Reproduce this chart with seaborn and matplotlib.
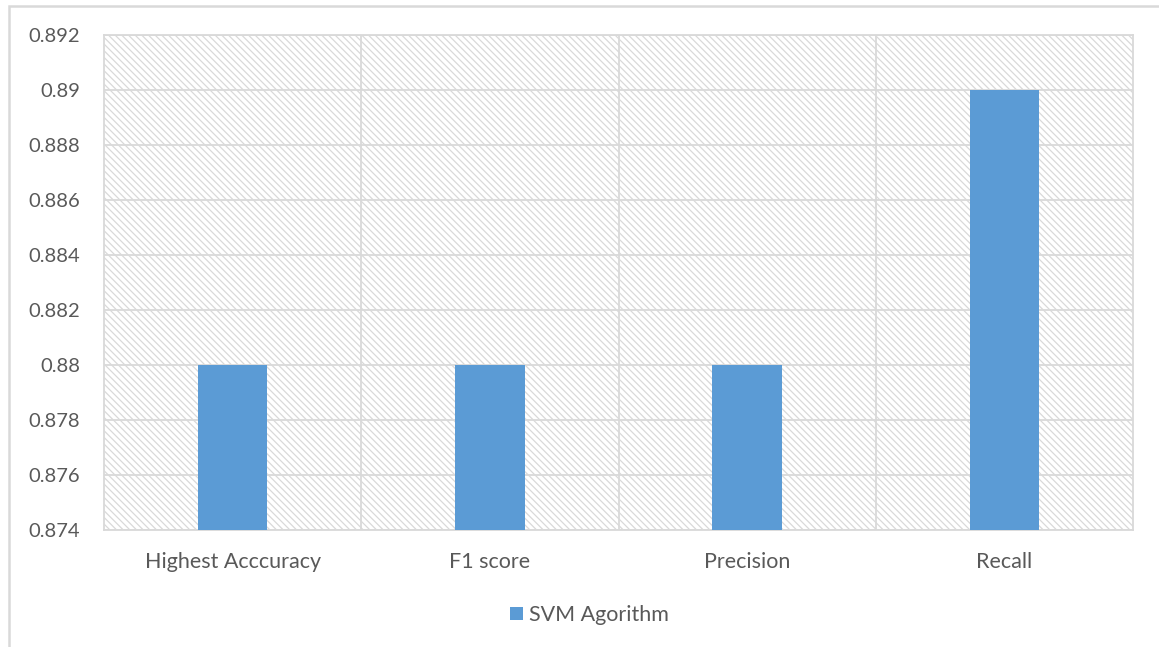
import matplotlib
matplotlib.use("Agg")
import matplotlib.pyplot as plt
from matplotlib.patches import Rectangle
import seaborn as sns
import pandas as pd

# Metrics for the SVM classifier
categories = ["Highest Acccuracy", "F1 score", "Precision", "Recall"]
scores = [0.88, 0.88, 0.88, 0.89]
series_name = "SVM Agorithm"
y_ticks = [0.874, 0.876, 0.878, 0.88, 0.882, 0.884, 0.886, 0.888, 0.89, 0.892]
y_tick_labels = ["0.874", "0.876", "0.878", "0.88", "0.882", "0.884",
                 "0.886", "0.888", "0.89", "0.892"]

BAR = "#5B9BD5"
GRID = "#D9D9D9"
TEXT = "#595959"

sns.set_theme(style="white")
plt.rcParams["font.family"] = ["Lato", "DejaVu Sans"]
plt.rcParams["hatch.color"] = GRID
plt.rcParams["hatch.linewidth"] = 0.9

df = pd.DataFrame({"metric": categories, "score": scores, "series": series_name})

fig = plt.figure(figsize=(11.59, 6.47), dpi=100)
ax = fig.add_axes([104 / 1159, 1 - 530 / 647, (1133 - 104) / 1159, (530 - 35) / 647])

# hatched plot-area background
ax.patch.set_facecolor("white")
ax.patch.set_hatch("\\\\\\\\\\")
ax.patch.set_edgecolor(GRID)
ax.patch.set_linewidth(0)

sns.barplot(data=df, x="metric", y="score", hue="series", palette=[BAR],
            width=0.27, ax=ax, zorder=3, linewidth=0, saturation=1)

ax.set_ylim(0.874, 0.892)
ax.set_xlim(-0.5, len(categories) - 0.5)
ax.set_yticks(y_ticks)
ax.set_yticklabels(y_tick_labels)
ax.set_xlabel("")
ax.set_ylabel("")

# horizontal and category-separator gridlines
ax.grid(axis="y", color=GRID, linewidth=1.3, zorder=1)
for xs in [0.5, 1.5, 2.5]:
    ax.axvline(xs, color=GRID, linewidth=1.3, zorder=1)
ax.set_axisbelow(True)

for sp in ax.spines.values():
    sp.set_visible(True)
    sp.set_color(GRID)
    sp.set_linewidth(1.3)

ax.tick_params(axis="y", length=0, pad=17, labelsize=14.5, labelcolor=TEXT)
ax.tick_params(axis="x", length=0, pad=16, labelsize=15.5, labelcolor=TEXT)

leg = ax.legend(loc="center", bbox_to_anchor=(0.472, -0.172), frameon=False,
                fontsize=15.5, handlelength=0.6, handleheight=0.6,
                handletextpad=0.3)
for t in leg.get_texts():
    t.set_color(TEXT)

# outer chart frame
fig.add_artist(Rectangle((9 / 1159, -0.05), 1.1, 1.05 - 6 / 647,
                         transform=fig.transFigure, fill=False,
                         edgecolor=GRID, linewidth=1.8))

fig.savefig("out.png", dpi=100)
